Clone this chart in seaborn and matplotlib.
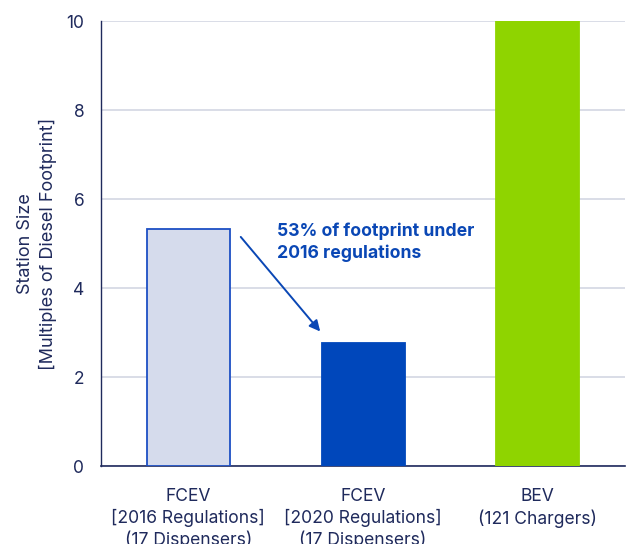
import matplotlib
matplotlib.use("Agg")
import matplotlib.pyplot as plt
import seaborn as sns
import pandas as pd

# data
categories = ["FCEV\n[2016 Regulations]\n(17 Dispensers)",
              "FCEV\n[2020 Regulations]\n(17 Dispensers)",
              "BEV\n(121 Chargers)"]
station_size = [5.33, 2.78, 10.0]
fill_colors = ["#d5dbec", "#0047bb", "#8fd400"]
edge_colors = ["#1d4fc4", "#0047bb", "#8fd400"]

navy = "#1f2a5c"
blue = "#0a47b5"

sns.set_style("white")
plt.rcParams["font.family"] = ["Inter", "DejaVu Sans"]

df = pd.DataFrame({"category": categories, "size": station_size})

fig = plt.figure(figsize=(6.27, 5.44), dpi=100)
ax = fig.add_axes([0.161, 0.143, 0.836, 0.818])

sns.barplot(data=df, x="category", y="size", hue="category",
            palette=fill_colors, saturation=1, legend=False, width=0.475,
            ax=ax, zorder=3)
for patch, ec in zip(ax.patches, edge_colors):
    patch.set_edgecolor(ec)
    patch.set_linewidth(1.3)

ax.set_xlim(-0.5, 2.5)
ax.set_ylim(0, 10)
ax.set_yticks([0, 2, 4, 6, 8, 10])
ax.yaxis.grid(True, color="#d3d7e3", linewidth=1.2, zorder=0)
ax.set_axisbelow(True)

for side in ["top", "right"]:
    ax.spines[side].set_visible(False)
ax.spines["left"].set_color(navy)
ax.spines["bottom"].set_color(navy)
ax.spines["left"].set_linewidth(1.0)
ax.spines["bottom"].set_linewidth(1.2)

ax.tick_params(axis="y", length=0, colors=navy, labelsize=12.5, pad=12)
ax.tick_params(axis="x", length=0, colors=navy, labelsize=12.6, pad=16)
for lbl in ax.get_xticklabels():
    lbl.set_linespacing(1.25)

ax.set_xlabel("")
ax.set_ylabel("Station Size\n[Multiples of Diesel Footprint]",
              color=navy, fontsize=13, labelpad=7, linespacing=1.3)

ax.annotate("", xy=(0.765, 2.98), xytext=(0.29, 5.2),
            arrowprops=dict(arrowstyle="-|>", color=blue, lw=1.4,
                            mutation_scale=16), zorder=5)
ax.text(0.505, 5.48, "53% of footprint under\n2016 regulations",
        color=blue, fontsize=12.7, fontweight="bold", va="top", ha="left",
        linespacing=1.35)

fig.savefig("out.png", dpi=100)
